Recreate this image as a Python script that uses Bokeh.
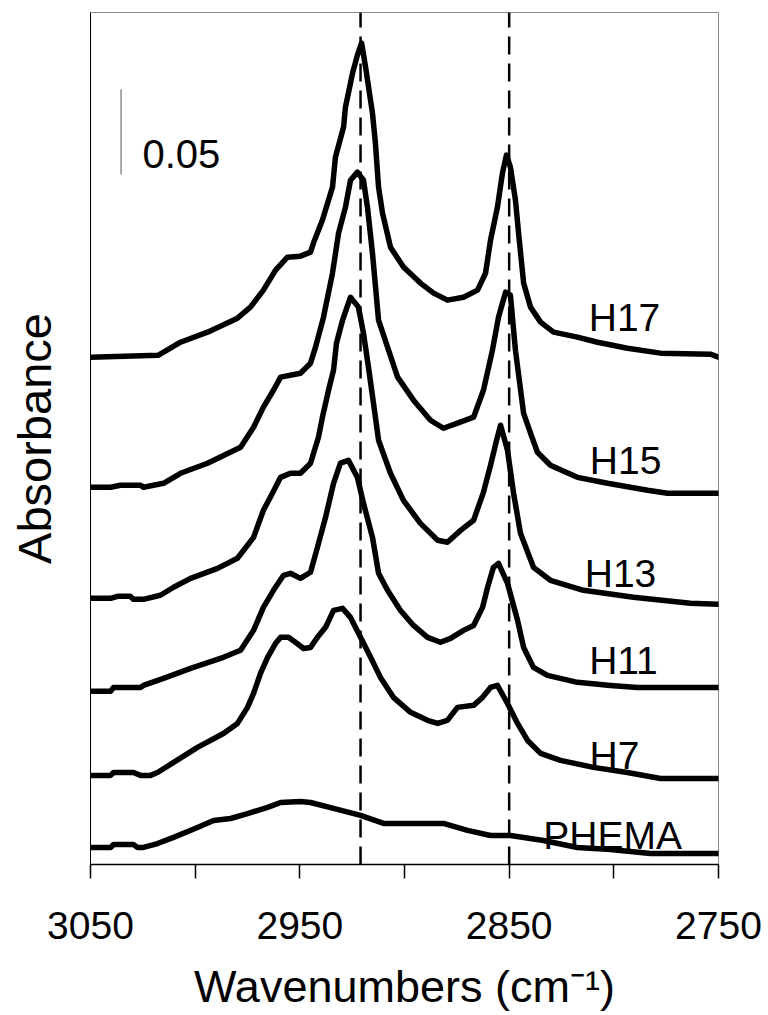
import numpy as np
from bokeh.plotting import figure
from bokeh.models import Range1d, FixedTicker, Label, ColumnDataSource
from bokeh.embed import file_html
from bokeh.resources import INLINE

# ---------------- data ----------------
wn_h17 = [3050, 3017.5, 3007.0, 2994.1, 2979.8, 2973.6, 2967.4, 2961.6, 2955.9, 2949.7,
          2944.9, 2943.5, 2939.2, 2934.4, 2933.0, 2929.1, 2928.2, 2924.8, 2922.5, 2920.5,
          2918.6, 2915.3, 2913.9, 2912.4, 2910.5, 2906.7, 2900.5, 2892.4, 2886.1, 2879.5,
          2871.8, 2865.1, 2861.3, 2858.9, 2855.6, 2853.2, 2851.3, 2849.4, 2847.0, 2845.5,
          2843.1, 2839.8, 2835.0, 2828.8, 2817.4, 2807.8, 2793.5, 2777.7, 2753.8, 2750]
abs_h17 = [0.2977, 0.2989, 0.3065, 0.3124, 0.3206, 0.3271, 0.3371, 0.3488, 0.3564, 0.3570,
           0.3594, 0.3647, 0.3782, 0.3975, 0.4151, 0.4328, 0.4445, 0.4645, 0.4750, 0.4821,
           0.4680, 0.4410, 0.4234, 0.3975, 0.3823, 0.3623, 0.3506, 0.3412, 0.3353, 0.3312,
           0.3329, 0.3371, 0.3470, 0.3664, 0.3858, 0.4058, 0.4163, 0.4093, 0.3899, 0.3705,
           0.3412, 0.3271, 0.3183, 0.3124, 0.3095, 0.3065, 0.3030, 0.3001, 0.2995, 0.2977]

wn_h15 = [3050, 3040.4, 3035.7, 3026.1, 3024.7, 3015.1, 3007.0, 2994.1, 2978.3, 2972.1,
          2967.4, 2962.6, 2959.2, 2949.7, 2944.9, 2942.5, 2938.7, 2934.4, 2931.5, 2928.2,
          2925.8, 2922.5, 2919.6, 2917.7, 2915.3, 2912.4, 2908.1, 2903.3, 2895.7, 2887.6,
          2881.4, 2874.7, 2867.0, 2862.3, 2858.0, 2855.1, 2851.7, 2849.4, 2847.0, 2843.1,
          2839.8, 2836.5, 2830.3, 2817.4, 2803.0, 2783.9, 2774.4, 2750]
abs_h15 = [0.2214, 0.2214, 0.2226, 0.2226, 0.2214, 0.2237, 0.2296, 0.2355, 0.2449, 0.2566,
           0.2684, 0.2783, 0.2860, 0.2883, 0.2942, 0.3036, 0.3212, 0.3470, 0.3705, 0.3858,
           0.4016, 0.4063, 0.4016, 0.3858, 0.3588, 0.3194, 0.3036, 0.2860, 0.2725, 0.2607,
           0.2560, 0.2590, 0.2625, 0.2783, 0.3018, 0.3212, 0.3359, 0.3341, 0.3018, 0.2648,
           0.2531, 0.2419, 0.2343, 0.2272, 0.2237, 0.2196, 0.2179, 0.2179]

wn_h13 = [3050, 3040.4, 3037.1, 3030.9, 3029.5, 3024.7, 3016.6, 3010.3, 3002.2, 2989.3,
          2979.8, 2972.1, 2967.4, 2963.1, 2959.2, 2954.5, 2949.7, 2944.9, 2941.1, 2939.2,
          2936.3, 2933.9, 2932.5, 2929.6, 2925.8, 2922.0, 2919.6, 2917.2, 2913.9, 2912.4,
          2906.7, 2900.5, 2892.4, 2884.2, 2879.5, 2873.2, 2867.0, 2862.3, 2858.9, 2856.0,
          2854.1, 2850.8, 2847.9, 2844.6, 2838.4, 2830.3, 2814.5, 2790.6, 2763.4, 2750]
abs_h13 = [0.1562, 0.1562, 0.1574, 0.1574, 0.1556, 0.1556, 0.1580, 0.1627, 0.1679, 0.1738,
           0.1797, 0.1920, 0.2079, 0.2179, 0.2272, 0.2296, 0.2296, 0.2355, 0.2507, 0.2625,
           0.2783, 0.2901, 0.3059, 0.3194, 0.3329, 0.3271, 0.3118, 0.2918, 0.2625, 0.2490,
           0.2296, 0.2137, 0.2002, 0.1903, 0.1891, 0.1961, 0.2020, 0.2184, 0.2343, 0.2490,
           0.2578, 0.2431, 0.2179, 0.1944, 0.1744, 0.1668, 0.1609, 0.1568, 0.1533, 0.1527]

wn_h11 = [3050, 3040.4, 3039.0, 3026.1, 3024.7, 3015.1, 3002.2, 2986.5, 2978.3, 2972.1,
          2967.4, 2962.6, 2957.8, 2954.5, 2949.7, 2944.9, 2941.6, 2937.7, 2933.9, 2930.6,
          2926.8, 2922.5, 2919.6, 2915.3, 2912.4, 2908.1, 2901.9, 2895.7, 2889.0, 2882.8,
          2878.0, 2871.8, 2867.0, 2862.7, 2860.3, 2857.5, 2855.1, 2850.8, 2846.0, 2843.1,
          2838.4, 2831.7, 2817.4, 2801.6, 2788.7, 2750]
abs_h11 = [0.1016, 0.1016, 0.1039, 0.1039, 0.1051, 0.1092, 0.1151, 0.1216, 0.1257, 0.1374,
           0.1509, 0.1609, 0.1697, 0.1709, 0.1679, 0.1715, 0.1861, 0.2038, 0.2237, 0.2355,
           0.2372, 0.2272, 0.2120, 0.1920, 0.1709, 0.1609, 0.1491, 0.1403, 0.1333, 0.1304,
           0.1327, 0.1374, 0.1403, 0.1509, 0.1627, 0.1744, 0.1767, 0.1650, 0.1433, 0.1274,
           0.1157, 0.1110, 0.1069, 0.1051, 0.1039, 0.1039]

wn_h7 = [3050, 3040.4, 3039.0, 3029.5, 3026.1, 3021.3, 3018.0, 3010.3, 2998.9, 2986.5,
         2979.8, 2975.0, 2972.1, 2968.8, 2965.4, 2961.6, 2959.2, 2955.4, 2952.1, 2948.2,
         2944.9, 2941.6, 2937.7, 2933.9, 2929.6, 2925.8, 2921.0, 2916.2, 2911.5, 2905.3,
         2897.1, 2889.0, 2884.2, 2879.5, 2874.7, 2867.0, 2862.7, 2858.9, 2855.6, 2850.8,
         2846.0, 2841.2, 2835.0, 2825.5, 2809.7, 2793.5, 2777.7, 2750]
abs_h7 = [0.0523, 0.0523, 0.0540, 0.0540, 0.0523, 0.0523, 0.0540, 0.0599, 0.0687, 0.0769,
          0.0828, 0.0922, 0.1004, 0.1122, 0.1216, 0.1298, 0.1333, 0.1333, 0.1304, 0.1268,
          0.1274, 0.1333, 0.1392, 0.1491, 0.1503, 0.1450, 0.1333, 0.1216, 0.1098, 0.0981,
          0.0893, 0.0846, 0.0828, 0.0846, 0.0922, 0.0934, 0.0981, 0.1039, 0.1051, 0.0945,
          0.0828, 0.0728, 0.0652, 0.0611, 0.0570, 0.0540, 0.0505, 0.0505]

wn_phema = [3050, 3040.4, 3039.0, 3029.5, 3027.5, 3024.7, 3018.0, 3010.3, 2998.9, 2991.2,
            2983.1, 2975.0, 2965.4, 2959.2, 2949.7, 2944.9, 2933.9, 2921.0, 2910.0, 2881.4,
            2869.9, 2858.9, 2849.4, 2833.6, 2817.4, 2801.6, 2782.5, 2750]
abs_phema = [0.0100, 0.0100, 0.0117, 0.0117, 0.0100, 0.0100, 0.0123, 0.0159, 0.0217, 0.0258,
             0.0270, 0.0299, 0.0335, 0.0364, 0.0370, 0.0364, 0.0329, 0.0288, 0.0241, 0.0241,
             0.0200, 0.0170, 0.0170, 0.0141, 0.0100, 0.0088, 0.0065, 0.0065]

series_names = ["H17", "H15", "H13", "H11", "H7", "PHEMA"]
series_wn = [wn_h17, wn_h15, wn_h13, wn_h11, wn_h7, wn_phema]
series_abs = [abs_h17, abs_h15, abs_h13, abs_h11, abs_h7, abs_phema]

x_labeled_ticks = [3050, 2950, 2850, 2750]
x_unlabeled_ticks = [3000, 2900, 2800]
reference_wn = [2921, 2850]
scale_bar_value = 0.05

x_title = "Wavenumbers (cm\u207b\u00b9)"
y_title = "Absorbance"

# ---------------- figure ----------------
FONT = "Liberation Sans"
p = figure(width=768, height=1015,
           x_range=Range1d(3050, 2750), y_range=Range1d(0, 0.5),
           output_backend="svg", toolbar_location=None,
           min_border_left=90, min_border_right=50,
           min_border_top=12, min_border_bottom=151)
p.background_fill_color = "white"
p.border_fill_color = "white"
p.outline_line_color = "#8c8c8c"
p.outline_line_width = 1
p.xgrid.visible = False
p.ygrid.visible = False

# dashed reference lines
ref_src = ColumnDataSource(dict(x=reference_wn, y0=[0.0] * len(reference_wn),
                                y1=[0.5] * len(reference_wn)))
p.segment(x0="x", y0="y0", x1="x", y1="y1", source=ref_src,
          line_color="black", line_width=2.5, line_dash="18 9")

# spectra
for wn, ab in zip(series_wn, series_abs):
    p.line(wn, ab, line_color="black", line_width=5.5, line_join="round", line_cap="round")

# scale bar
bar_x = 3035.4
bar_y0 = 0.405
p.segment(x0=[bar_x], y0=[bar_y0], x1=[bar_x], y1=[bar_y0 + scale_bar_value],
          line_color="#707070", line_width=1.2)
p.add_layout(Label(x=3025.2, y=0.4169, text=f"{scale_bar_value:.2f}",
                   text_font=FONT, text_font_size="40px", text_color="black",
                   text_align="left", text_baseline="alphabetic"))

# series labels
label_x = [2794.9, 2794.4, 2796.8, 2795.4, 2799.7, 2800.6]
label_y = [0.3212, 0.2372, 0.1709, 0.1198, 0.0640, 0.0170]
for name, lx, ly in zip(series_names, label_x, label_y):
    p.add_layout(Label(x=lx, y=ly, text=name, text_font=FONT, text_font_size="39px",
                       text_color="black", text_align="center", text_baseline="alphabetic"))

# x axis
xa = p.xaxis[0]
xa.ticker = FixedTicker(ticks=x_labeled_ticks, minor_ticks=x_unlabeled_ticks)
xa.axis_line_color = "black"
xa.axis_line_width = 1.5
xa.major_tick_line_color = "black"
xa.minor_tick_line_color = "black"
xa.major_tick_line_width = 1.5
xa.minor_tick_line_width = 1.5
xa.major_tick_in = 0
xa.major_tick_out = 14
xa.minor_tick_in = 0
xa.minor_tick_out = 14
xa.major_label_text_font = FONT
xa.major_label_text_font_size = "39px"
xa.major_label_text_color = "black"
xa.major_label_standoff = 33
xa.axis_label = x_title
xa.axis_label_text_font = FONT
xa.axis_label_text_font_size = "45px"
xa.axis_label_text_font_style = "normal"
xa.axis_label_text_color = "black"
xa.axis_label_standoff = 19

# y axis: plain line plus title
ya = p.yaxis[0]
ya.ticker = FixedTicker(ticks=[])
ya.major_tick_line_color = None
ya.minor_tick_line_color = None
ya.major_tick_out = 0
ya.major_label_text_font_size = "0px"
ya.major_label_standoff = 0
ya.axis_line_color = "black"
ya.axis_line_width = 1
ya.axis_label = y_title
ya.axis_label_text_font = FONT
ya.axis_label_text_font_size = "47px"
ya.axis_label_text_font_style = "normal"
ya.axis_label_text_color = "black"
ya.axis_label_standoff = 30

open("out.html", "w").write(file_html(p, INLINE))
